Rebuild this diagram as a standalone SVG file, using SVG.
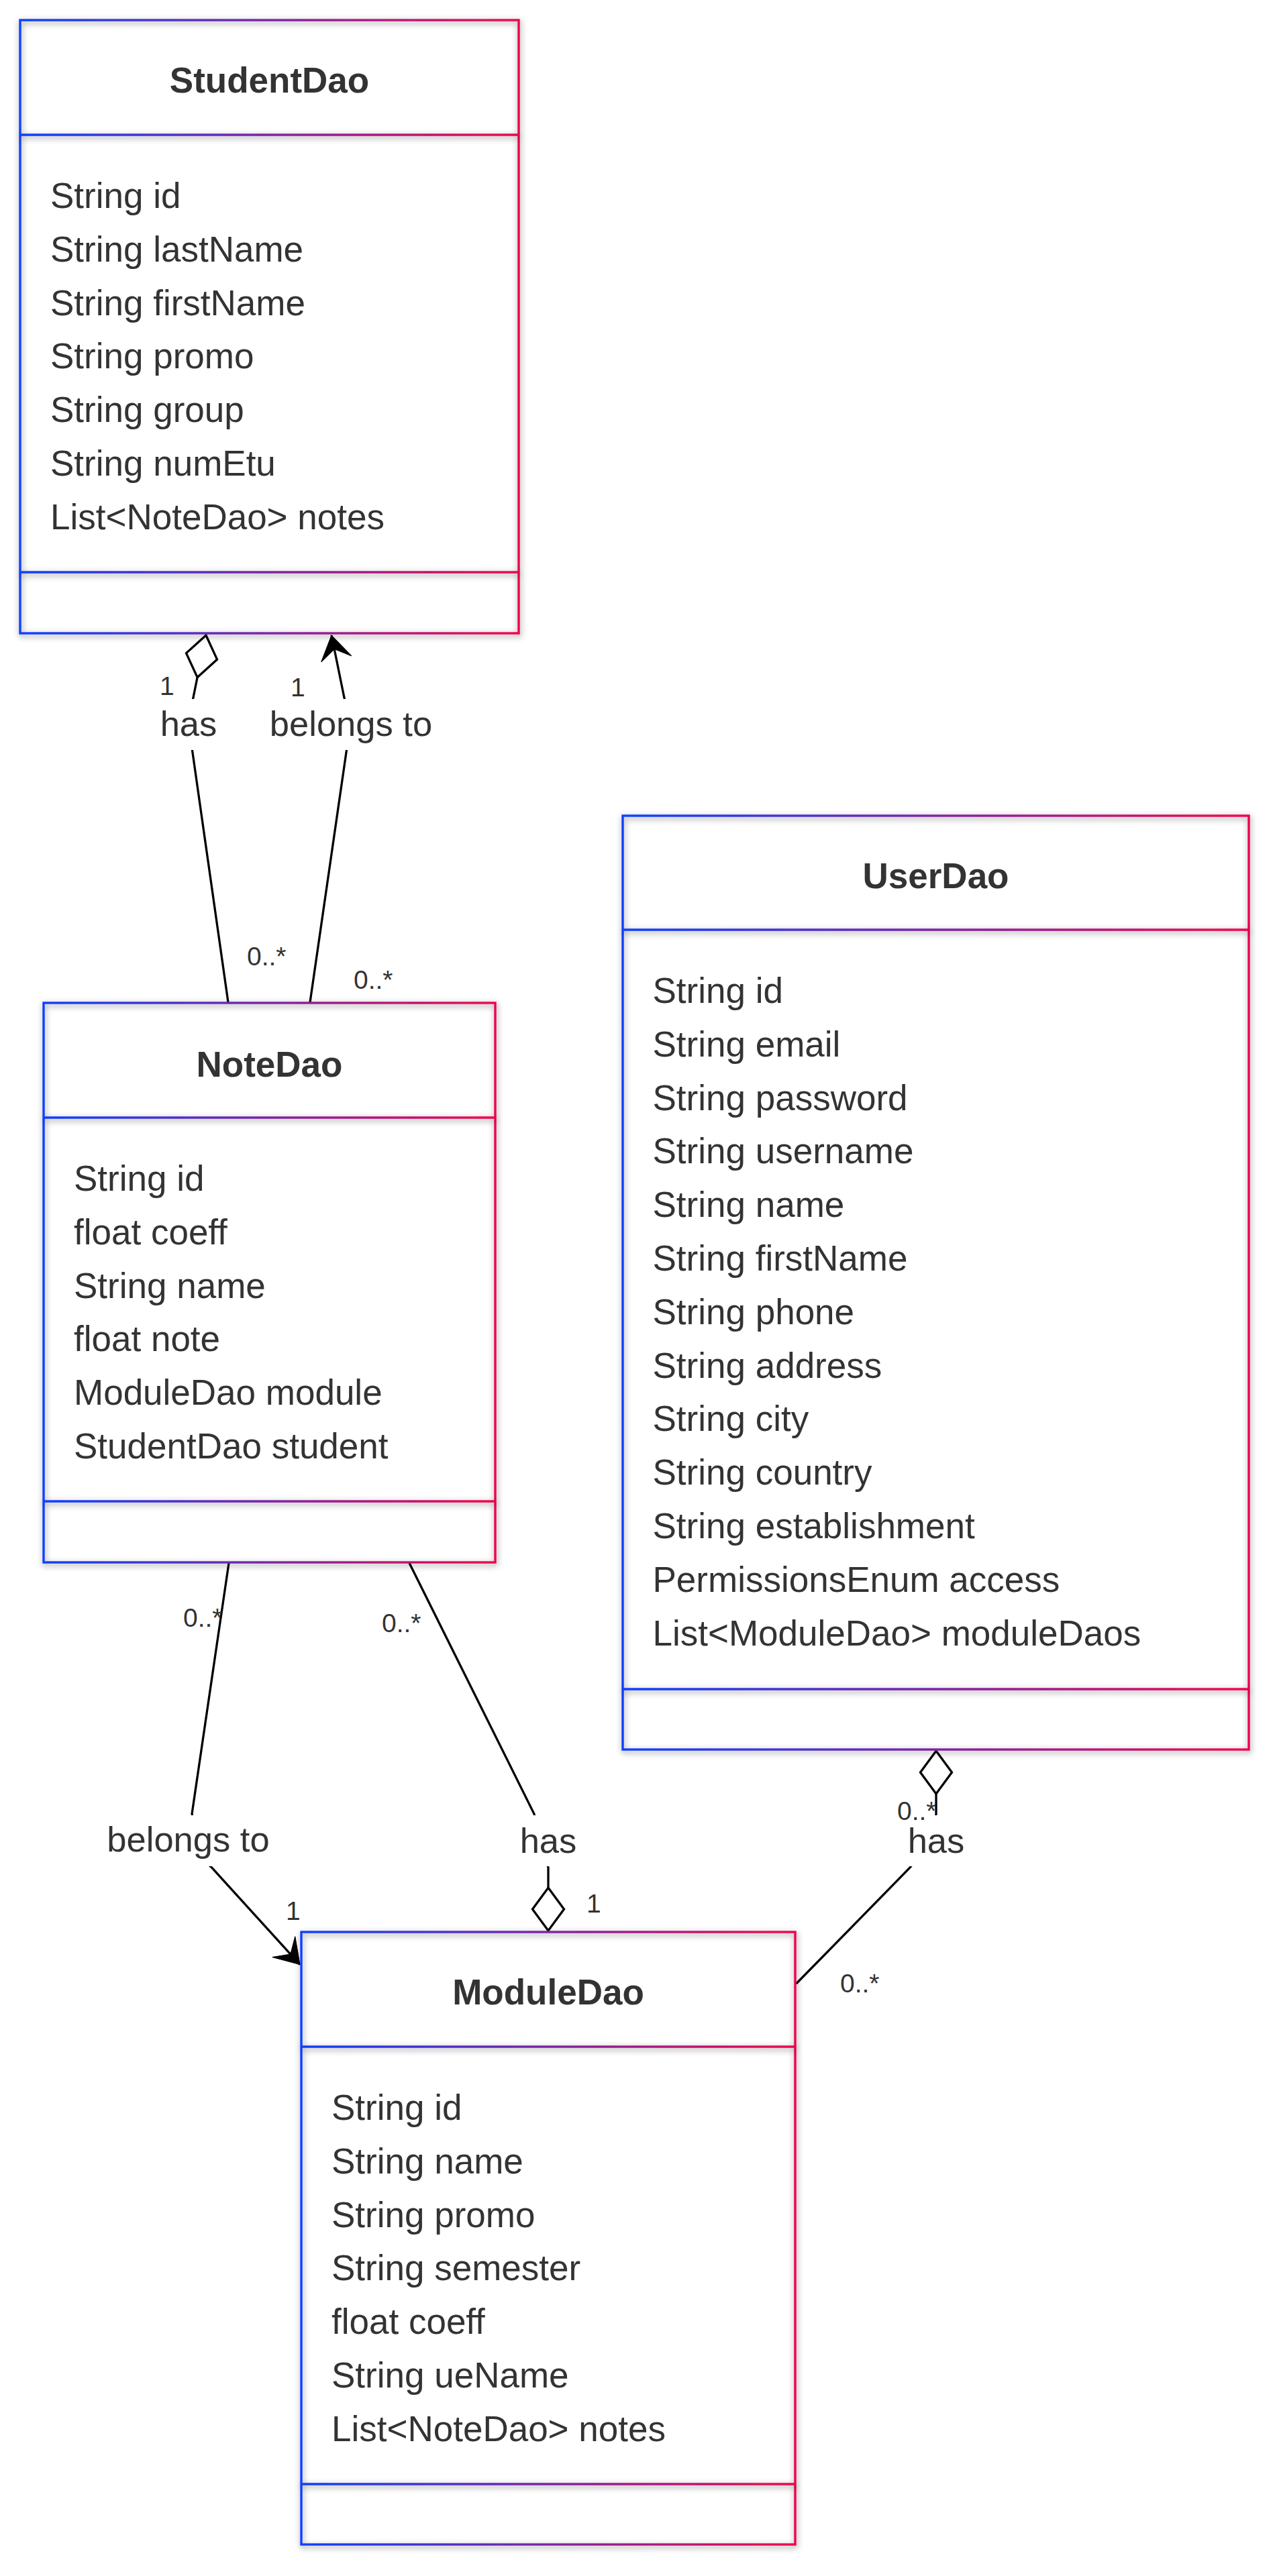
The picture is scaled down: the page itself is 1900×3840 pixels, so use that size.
<svg xmlns="http://www.w3.org/2000/svg" width="1900" height="3840" viewBox="0 0 1900 3840">
<style>
  .bg { fill: #ffffff; }
  .frame { fill: none; stroke-width: 3.4; filter: url(#sh); }
  .div { stroke-width: 3.4; filter: url(#sh); }
  .title { font-family: "Liberation Sans", Arial, sans-serif; font-size: 53px; font-weight: bold; fill: #333333; text-anchor: middle; }
  .attr { font-family: "Liberation Sans", Arial, sans-serif; font-size: 53px; fill: #333333; }
  .edge { fill: none; stroke: #000000; stroke-width: 3.3; }
  .lbg { fill: #ffffff; }
  .elabel { font-family: "Liberation Sans", Arial, sans-serif; font-size: 52.5px; fill: #333333; text-anchor: middle; }
  .mult { font-family: "Liberation Sans", Arial, sans-serif; font-size: 39px; fill: #333333; }
</style>
<defs>
  <filter id="sh" filterUnits="userSpaceOnUse" x="0" y="0" width="1900" height="3840">
    <feDropShadow dx="1" dy="3" stdDeviation="5" flood-color="#000000" flood-opacity="0.45"/>
  </filter>
  <linearGradient id="gS" gradientUnits="userSpaceOnUse" x1="30" y1="0" x2="773" y2="0">
    <stop offset="0" stop-color="#0a40ff"/><stop offset="1" stop-color="#f0064c"/>
  </linearGradient>
  <linearGradient id="gN" gradientUnits="userSpaceOnUse" x1="65" y1="0" x2="738" y2="0">
    <stop offset="0" stop-color="#0a40ff"/><stop offset="1" stop-color="#f0064c"/>
  </linearGradient>
  <linearGradient id="gU" gradientUnits="userSpaceOnUse" x1="928" y1="0" x2="1861" y2="0">
    <stop offset="0" stop-color="#0a40ff"/><stop offset="1" stop-color="#f0064c"/>
  </linearGradient>
  <linearGradient id="gM" gradientUnits="userSpaceOnUse" x1="449" y1="0" x2="1185" y2="0">
    <stop offset="0" stop-color="#0a40ff"/><stop offset="1" stop-color="#f0064c"/>
  </linearGradient>
  <marker id="agg" markerUnits="userSpaceOnUse" viewBox="0 0 68 52" refX="66" refY="26" markerWidth="68" markerHeight="52" orient="auto-start-reverse" overflow="visible">
    <path d="M2,26 L34,2.5 L66,26 L34,49.5 Z" fill="#ffffff" stroke="#000000" stroke-width="3.3"/>
  </marker>
  <marker id="arr" markerUnits="userSpaceOnUse" viewBox="0 0 38 50" refX="36" refY="25" markerWidth="38" markerHeight="50" orient="auto" overflow="visible">
    <path d="M36,25 L0,48 L15,25 L0,2 Z" fill="#000000" stroke="#000000" stroke-width="1"/>
  </marker>
</defs>
<rect x="0" y="0" width="1900" height="3840" fill="#ffffff"/>

<g id="connectors">
  <path id="e-student-has-note" class="edge" d="M307,947 L294,1010 L287,1045 L286,1115 L340,1494" marker-start="url(#agg)"/>
  <path id="e-note-belongs-student" class="edge" d="M462,1494 L516.5,1118 L515,1050 L494,947" marker-end="url(#arr)"/>
  <path id="e-note-belongs-module" class="edge" d="M341,2330 L286,2704 L300,2770 L315.6,2784 L447,2928.6" marker-end="url(#arr)"/>
  <path id="e-module-has-note" class="edge" d="M817,2878 L817,2784 L805,2740 L796,2704 L610,2330" marker-start="url(#agg)"/>
  <path id="e-user-has-module" class="edge" d="M1395,2610 L1395,2705 L1375,2760 L1356,2784 L1186.6,2957" marker-start="url(#agg)"/>
</g>

<g id="edge-labels">
  <rect class="lbg" x="238" y="1042" width="86" height="76"/>
  <text class="elabel" x="281" y="1097">has</text>
  <rect class="lbg" x="400" y="1042" width="246" height="76"/>
  <text class="elabel" x="523" y="1097">belongs to</text>
  <rect class="lbg" x="156" y="2706" width="249" height="76"/>
  <text class="elabel" x="280.5" y="2760">belongs to</text>
  <rect class="lbg" x="774" y="2706" width="86" height="76"/>
  <text class="elabel" x="817" y="2762">has</text>
  <rect class="lbg" x="1352" y="2706" width="86" height="76"/>
  <text class="elabel" x="1395" y="2762">has</text>
</g>

<g id="multiplicities">
  <text class="mult" x="238" y="1036">1</text>
  <text class="mult" x="433" y="1038">1</text>
  <text class="mult" x="368" y="1439">0..*</text>
  <text class="mult" x="527" y="1474">0..*</text>
  <text class="mult" x="273" y="2425">0..*</text>
  <text class="mult" x="569" y="2433">0..*</text>
  <text class="mult" x="426" y="2862">1</text>
  <text class="mult" x="874" y="2851">1</text>
  <text class="mult" x="1337" y="2713">0..*</text>
  <text class="mult" x="1252" y="2970">0..*</text>
</g>

<g id="StudentDao">
  <rect class="bg" x="30" y="30" width="743" height="914"/>
  <rect class="frame" x="30" y="30" width="743" height="914" stroke="url(#gS)"/>
  <line class="div" x1="30" y1="201" x2="773" y2="201" stroke="url(#gS)"/>
  <line class="div" x1="30" y1="853" x2="773" y2="853" stroke="url(#gS)"/>
  <text class="title" x="401.5" y="138">StudentDao</text>
  <text class="attr" x="75" y="310">String id</text>
  <text class="attr" x="75" y="389.8">String lastName</text>
  <text class="attr" x="75" y="469.6">String firstName</text>
  <text class="attr" x="75" y="549.4">String promo</text>
  <text class="attr" x="75" y="629.2">String group</text>
  <text class="attr" x="75" y="709">String numEtu</text>
  <text class="attr" x="75" y="788.8">List&lt;NoteDao&gt; notes</text>
</g>

<g id="NoteDao">
  <rect class="bg" x="65" y="1495" width="673" height="834"/>
  <rect class="frame" x="65" y="1495" width="673" height="834" stroke="url(#gN)"/>
  <line class="div" x1="65" y1="1666" x2="738" y2="1666" stroke="url(#gN)"/>
  <line class="div" x1="65" y1="2238" x2="738" y2="2238" stroke="url(#gN)"/>
  <text class="title" x="401.5" y="1605">NoteDao</text>
  <text class="attr" x="110" y="1775">String id</text>
  <text class="attr" x="110" y="1854.8">float coeff</text>
  <text class="attr" x="110" y="1934.6">String name</text>
  <text class="attr" x="110" y="2014.4">float note</text>
  <text class="attr" x="110" y="2094.2">ModuleDao module</text>
  <text class="attr" x="110" y="2174">StudentDao student</text>
</g>

<g id="UserDao">
  <rect class="bg" x="928" y="1216" width="933" height="1392"/>
  <rect class="frame" x="928" y="1216" width="933" height="1392" stroke="url(#gU)"/>
  <line class="div" x1="928" y1="1386" x2="1861" y2="1386" stroke="url(#gU)"/>
  <line class="div" x1="928" y1="2518" x2="1861" y2="2518" stroke="url(#gU)"/>
  <text class="title" x="1394.5" y="1324">UserDao</text>
  <text class="attr" x="972.5" y="1495">String id</text>
  <text class="attr" x="972.5" y="1574.8">String email</text>
  <text class="attr" x="972.5" y="1654.6">String password</text>
  <text class="attr" x="972.5" y="1734.4">String username</text>
  <text class="attr" x="972.5" y="1814.2">String name</text>
  <text class="attr" x="972.5" y="1894">String firstName</text>
  <text class="attr" x="972.5" y="1973.8">String phone</text>
  <text class="attr" x="972.5" y="2053.6">String address</text>
  <text class="attr" x="972.5" y="2133.4">String city</text>
  <text class="attr" x="972.5" y="2213.2">String country</text>
  <text class="attr" x="972.5" y="2293">String establishment</text>
  <text class="attr" x="972.5" y="2372.8">PermissionsEnum access</text>
  <text class="attr" x="972.5" y="2452.6">List&lt;ModuleDao&gt; moduleDaos</text>
</g>

<g id="ModuleDao">
  <rect class="bg" x="449" y="2880" width="736" height="913"/>
  <rect class="frame" x="449" y="2880" width="736" height="913" stroke="url(#gM)"/>
  <line class="div" x1="449" y1="3051" x2="1185" y2="3051" stroke="url(#gM)"/>
  <line class="div" x1="449" y1="3703" x2="1185" y2="3703" stroke="url(#gM)"/>
  <text class="title" x="817" y="2988">ModuleDao</text>
  <text class="attr" x="494" y="3160">String id</text>
  <text class="attr" x="494" y="3239.8">String name</text>
  <text class="attr" x="494" y="3319.6">String promo</text>
  <text class="attr" x="494" y="3399.4">String semester</text>
  <text class="attr" x="494" y="3479.2">float coeff</text>
  <text class="attr" x="494" y="3559">String ueName</text>
  <text class="attr" x="494" y="3638.8">List&lt;NoteDao&gt; notes</text>
</g>
</svg>
